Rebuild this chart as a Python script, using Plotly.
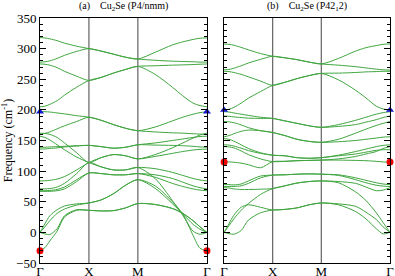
import numpy as np
import plotly.graph_objects as go

# ---------------- data ----------------
# high-symmetry points and path positions (Γ-X = X-M = 1, M-Γ = sqrt 2)
kpoint_labels = ["Γ", "X", "M", "Γ"]
kpoint_pos = [0.0, 1.0, 2.0, 2.0 + np.sqrt(2)]

# sampling fractions along each segment
frac_GX = [0.0, 0.1, 0.2, 0.35, 0.5, 0.75, 1.0]
frac_XM = [0.25, 0.5, 0.75, 1.0]
frac_MG = [0.25, 0.5, 0.65, 0.8, 0.9, 1.0]

# panel (a) Cu2Se (P4/nmm) bands, cm^-1 : [Γ-X (7) | X-M (4) | M-Γ (6)]
bands_a = [
    [318, 317.5, 316, 313, 309, 304, 300, 296, 291, 286, 283, 294, 306, 311, 315, 317, 317.5],
    [278, 278.5, 280, 284, 289, 295.5, 300, 296, 291, 286, 283, 281, 279.5, 279, 278.5, 278, 278],
    [275, 274.5, 273, 269, 263, 255, 248, 253, 260, 266, 271, 272, 273, 273.5, 274, 274.5, 275],
    [205, 206, 209, 215, 224, 237, 248, 253, 260, 266, 271, 258, 237, 223, 211, 207, 205],
    [197, 197, 196.5, 195, 193.5, 190.5, 188, 183, 176, 170, 166, 172, 182, 188, 193, 195.5, 197],
    [160, 161.5, 164, 169, 174, 181, 188, 183, 176, 170, 166, 164, 162.5, 162, 161, 160.5, 160],
    [162, 161.5, 160, 155, 146, 130, 114, 122, 127, 125, 120, 127, 138, 146, 154, 159, 162],
    [157, 155, 151, 143, 135, 123, 114, 107, 102, 102, 106, 104, 98, 93, 88, 85.5, 84],
    [139, 139, 139.5, 140, 140.5, 141.5, 142, 140, 137.5, 139, 143, 142.5, 142, 141.5, 140.5, 139.5, 139],
    [136, 136.2, 137, 138, 139.5, 141, 142, 140, 137.5, 139, 143, 146, 150, 152.5, 155, 156.5, 157],
    [84, 84.2, 85, 87, 91, 102, 114, 122, 127, 125, 120, 124, 129, 132, 134.5, 135.5, 136],
    [71, 71, 71.5, 74, 80, 96, 114, 107, 102, 102, 106, 88, 52, 28, 2, -3, 0],
    [68, 68, 68.5, 70, 74, 86, 97, 96, 94, 94, 96, 94, 88, 82, 76, 73, 71],
    [67, 67, 67, 68, 71, 83, 97, 96, 94, 94, 96, 90, 80, 75, 71, 69, 68],
    [0, 14, 27, 37, 43, 46.5, 48, 53, 63, 77, 86, 72, 47, 30, 13, 5, 0],
    [0, 9, 19, 31, 38, 44.5, 48, 53, 63, 77, 86, 76, 50, 30, -5, -26, -30],
    [0, -2.5, -3.5, 6, 27, 37, 36, 35, 35.5, 40, 47, 45.5, 39, 31, 19, 9, 0],
    [-30, -25, -14, 2, 25, 36, 36, 35, 35.5, 40, 47, 45.5, 39, 31, 19, 9, 0],
]

# panel (b) Cu2Se (P42_12) bands
bands_b = [
    [307.5, 307, 305.5, 302, 298, 292, 287.5, 285, 282, 278, 275, 284, 296, 301.5, 305, 307, 307.7],
    [265.5, 266, 268, 272, 276.5, 282.5, 287.5, 285, 282, 278, 275, 273, 270.5, 268.5, 266.5, 265.5, 265],
    [263, 262.5, 261, 258, 254, 247, 240, 245, 251, 256, 259.5, 260, 261, 262, 262.5, 263, 263],
    [200, 201, 204, 211, 219, 230, 240, 245, 251, 256, 259.5, 249, 232, 219.5, 206, 201.5, 200],
    [197, 196.5, 195, 193, 191, 188, 186, 182, 178, 174, 171.5, 176, 183, 188, 193, 195.5, 197],
    [190, 189.5, 188.5, 187.5, 186.5, 186, 186, 182, 178, 174, 171.5, 173, 176, 180, 184, 187.5, 190],
    [181, 180.5, 179, 175.5, 171, 166, 163, 158, 152, 148.5, 147, 152, 162, 168.5, 174.5, 178, 181],
    [156, 158, 161, 165, 167, 166, 163, 158, 152, 148.5, 147, 148, 150, 152, 154, 155.5, 156],
    [153, 152, 149, 143, 137, 130, 126, 125, 122, 121, 122, 126, 132, 136, 140, 142, 143],
    [143, 142.5, 141, 137.5, 133.5, 129, 126, 125, 122, 121, 122, 125, 128, 131, 134, 135, 135],
    [140, 139.5, 138, 133, 127, 120, 115.5, 116, 117, 117.5, 118, 120, 124, 128, 132, 137, 140],
    [115, 115, 114.5, 113, 110.5, 105.5, 115.5, 116, 117, 117.5, 118, 118, 117.5, 117, 116, 115, 114.5],
    [78, 78, 77.5, 79, 84, 92, 93.5, 94, 95, 95.5, 95, 94, 89, 85, 81, 79, 78],
    [75, 75, 75, 76, 80, 89, 93.5, 94, 95, 95.5, 95, 93, 86, 81, 77, 75.5, 75],
    [73, 72.5, 71, 70, 70, 70.5, 71.5, 76, 80.5, 83, 84, 83, 80, 74, 68, 69, 73],
    [0, 11, 22, 36, 47, 62, 71.5, 76, 80.5, 83, 84, 81, 66, 52, 32, 16, 0],
    [0, 14, 28, 41, 45, 41, 36.5, 37.5, 40, 45, 48, 46.5, 42.5, 33, 21, 9, 0],
    [0, -2, -3, 3, 20, 32, 36.5, 37.5, 40, 45, 48, 45, 34, 22, 6, -2.5, 0],
]

# special Γ modes (frequency values)
red_a, blue_a = -30, 197
red_b, blue_b = 115, 200

y_ticks = [-50, 0, 50, 100, 150, 200, 250, 300, 350]

# ---------------- build ----------------
G, X, M, G2 = kpoint_pos
q = ([G + f * (X - G) for f in frac_GX] +
     [X + f * (M - X) for f in frac_XM] +
     [M + f * (G2 - M) for f in frac_MG])

GREEN = "#3fa53f"
FONT = "Liberation Serif, Times New Roman, serif"

fig = go.Figure()


def add_panel(bands, xa, ya, red, blue):
    for b in bands:
        fig.add_trace(go.Scatter(x=q, y=b, mode="lines", xaxis=xa, yaxis=ya,
                                 line=dict(color=GREEN, width=1, shape="spline", smoothing=0.8),
                                 hoverinfo="skip", showlegend=False))
    fig.add_trace(go.Scatter(x=[G, G2], y=[blue, blue], mode="markers", xaxis=xa, yaxis=ya,
                             marker=dict(symbol="triangle-up", color="#1515d0", size=7),
                             cliponaxis=False, showlegend=False))
    fig.add_trace(go.Scatter(x=[G, G2], y=[red, red], mode="markers", xaxis=xa, yaxis=ya,
                             marker=dict(symbol="circle", color="#ee0000", size=7),
                             cliponaxis=False, showlegend=False))


add_panel(bands_a, "x", "y", red_a, blue_a)
add_panel(bands_b, "x2", "y2", red_b, blue_b)

# vertical lines at X and M
for xr, yr, col, w in (("x", "y domain", "#8a8a8a", 1.6), ("x2", "y2 domain", "#555555", 1.1)):
    for p in kpoint_pos[1:3]:
        fig.add_shape(type="line", xref=xr, yref=yr, x0=p, x1=p, y0=0, y1=1,
                      line=dict(color=col, width=w), layer="below")

xcommon = dict(range=[G, G2], tickvals=kpoint_pos, ticktext=kpoint_labels, ticks="",
               showline=True, linecolor="black", linewidth=1, mirror=True,
               showgrid=False, zeroline=False, tickfont=dict(family=FONT, size=13, color="black"),
               ticklabelstandoff=-4, automargin=False)
ycommon = dict(range=[-50, 350], tickvals=y_ticks, ticks="inside", ticklen=6, tickwidth=1,
               tickcolor="black", showline=True, linecolor="black", linewidth=1, mirror="ticks",
               showgrid=False, zeroline=False,
               minor=dict(dtick=10, ticks="inside", ticklen=3, tickcolor="black", showgrid=False),
               tickfont=dict(family=FONT, size=13, color="black"), automargin=False)

fig.update_layout(
    width=395, height=276,
    margin=dict(l=40, r=5, t=18, b=13, pad=0),
    paper_bgcolor="white", plot_bgcolor="white",
    font=dict(family=FONT),
    xaxis=dict(domain=[0, 0.477], anchor="y", **xcommon),
    xaxis2=dict(domain=[0.526, 1.0], anchor="y2", **xcommon),
    yaxis=dict(domain=[0, 1], anchor="x", title=dict(text="Frequency (cm<sup>-1</sup>)",
               font=dict(family=FONT, size=12, color="black"), standoff=4), **ycommon),
    yaxis2=dict(domain=[0, 1], anchor="x2", showticklabels=False, **ycommon),
    annotations=[
        dict(text="(a)    Cu<sub>2</sub>Se (P4/nmm)", xref="x domain", yref="paper",
             x=0.5, y=1.0, yshift=3, xanchor="center", yanchor="bottom", showarrow=False,
             font=dict(family=FONT, size=10, color="black")),
        dict(text="(b)    Cu<sub>2</sub>Se (P42<sub>1</sub>2)", xref="x2 domain", yref="paper",
             x=0.5, y=1.0, yshift=3, xanchor="center", yanchor="bottom", showarrow=False,
             font=dict(family=FONT, size=10, color="black")),
    ],
)

fig.write_html("out.html", config={"displayModeBar": False},
               post_script="document.body.style.margin='0px';")
